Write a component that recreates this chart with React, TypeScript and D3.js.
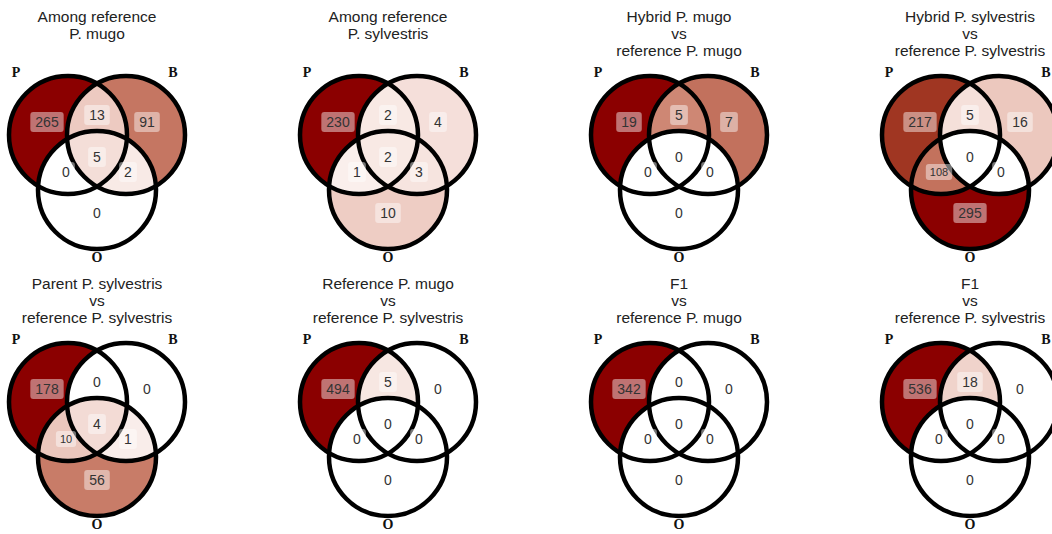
import React from "react";
import * as d3 from "d3";

const titles: string[][] = [
  ["Among reference", "P. mugo"],
  ["Among reference", "P. sylvestris"],
  ["Hybrid P. mugo", "vs", "reference P. mugo"],
  ["Hybrid P. sylvestris", "vs", "reference P. sylvestris"],
  ["Parent P. sylvestris", "vs", "reference P. sylvestris"],
  ["Reference P. mugo", "vs", "reference P. sylvestris"],
  ["F1", "vs", "reference P. mugo"],
  ["F1", "vs", "reference P. sylvestris"],
];

// region order: P only, P∩B, B only, P∩O, P∩B∩O, B∩O, O only
const regionKeys = ["P", "PB", "B", "PO", "PBO", "BO", "O"];
const counts: number[][] = [
  [265, 13, 91, 0, 5, 2, 0],
  [230, 2, 4, 1, 2, 3, 10],
  [19, 5, 7, 0, 0, 0, 0],
  [217, 5, 16, 108, 0, 0, 295],
  [178, 0, 0, 10, 4, 1, 56],
  [494, 5, 0, 0, 0, 0, 0],
  [342, 0, 0, 0, 0, 0, 0],
  [536, 18, 0, 0, 0, 0, 0],
];
const setNames = ["P", "B", "O"];

const W = 1052;
const H = 534;
const R = 59;
const circleOffsets: Record<string, [number, number]> = {
  P: [-29, 135],
  B: [29, 135],
  O: [0, 190],
};
const labelOffsets: Record<string, [number, number]> = {
  P: [-50, 122],
  PB: [0, 115],
  B: [50, 122],
  PO: [-31, 172],
  PBO: [0, 157],
  BO: [31, 172],
  O: [0, 213],
};
const setLabelOffsets: Record<string, [number, number]> = {
  P: [-81, 77],
  B: [76, 77],
  O: [0, 262],
};

const colX = d3.scaleLinear().domain([0, 3]).range([97, 970]);
const rowY = d3.scaleLinear().domain([0, 1]).range([0, 267]);

function Venn({ idx }: { idx: number }) {
  const cx = colX(idx % 4);
  const oy = rowY(Math.floor(idx / 4));
  const vals = counts[idx];
  const max = d3.max(vals) || 1;
  const color = d3
    .scaleSqrt<string>()
    .domain([0, max])
    .range(["#ffffff", "#8b0000"])
    .interpolate(d3.interpolateLab);
  const c = (k: string) => ({
    x: cx + circleOffsets[k][0],
    y: oy + circleOffsets[k][1],
  });
  const id = (s: string) => `v${idx}-${s}`;

  const regionEl = (key: string, i: number) => {
    const inSets = setNames.filter((s) => key.includes(s));
    const outSets = setNames.filter((s) => !key.includes(s));
    const first = c(inSets[0]);
    let el: React.ReactNode = (
      <circle cx={first.x} cy={first.y} r={R} fill={color(vals[i])} />
    );
    for (const s of inSets.slice(1)) {
      el = <g clipPath={`url(#${id("clip" + s)})`}>{el}</g>;
    }
    for (const s of outSets) {
      el = <g mask={`url(#${id("not" + s)})`}>{el}</g>;
    }
    return <g key={key}>{el}</g>;
  };

  return (
    <g>
      <defs>
        {setNames.map((s) => {
          const p = c(s);
          return (
            <React.Fragment key={s}>
              <clipPath id={id("clip" + s)}>
                <circle cx={p.x} cy={p.y} r={R} />
              </clipPath>
              <mask id={id("not" + s)} maskUnits="userSpaceOnUse" x={0} y={0} width={W} height={H}>
                <rect x={0} y={0} width={W} height={H} fill="white" />
                <circle cx={p.x} cy={p.y} r={R} fill="black" />
              </mask>
            </React.Fragment>
          );
        })}
      </defs>
      {titles[idx].map((t, j) => (
        <text
          key={j}
          x={cx}
          y={oy + 22 + j * 17}
          textAnchor="middle"
          fontFamily="'Liberation Sans', Arial, sans-serif"
          fontSize={15.5}
          fill="#222"
        >
          {t}
        </text>
      ))}
      {regionKeys.map((k, i) => regionEl(k, i))}
      {setNames.map((s) => {
        const p = c(s);
        return (
          <circle key={s} cx={p.x} cy={p.y} r={R} fill="none" stroke="#000" strokeWidth={4.5} />
        );
      })}
      {regionKeys.map((k, i) => {
        const txt = String(vals[i]);
        const small = (k === "PO" || k === "BO") && txt.length > 1;
        const fs = small ? 11 : 14;
        const pad = small ? 4 : 5;
        const w = txt.length * fs * 0.556 + pad * 2;
        const h = small ? 16 : 20;
        const x = cx + labelOffsets[k][0];
        const y = oy + labelOffsets[k][1];
        return (
          <g key={k}>
            <rect x={x - w / 2} y={y - h / 2} width={w} height={h} rx={3} fill="#fff" fillOpacity={0.45} />
            <text
              x={x}
              y={y}
              dy="0.35em"
              textAnchor="middle"
              fontFamily="'Liberation Sans', Arial, sans-serif"
              fontSize={fs}
              fill="#333"
            >
              {txt}
            </text>
          </g>
        );
      })}
      {setNames.map((s) => (
        <text
          key={s}
          x={cx + setLabelOffsets[s][0]}
          y={oy + setLabelOffsets[s][1]}
          textAnchor="middle"
          fontFamily="'Liberation Serif', 'Times New Roman', serif"
          fontWeight="bold"
          fontSize={14}
          fill="#111"
        >
          {s}
        </text>
      ))}
    </g>
  );
}

export default function App() {
  return (
    <svg
      width={W}
      height={H}
      style={{ position: "absolute", left: 0, top: 0, background: "#fff" }}
    >
      {titles.map((_, i) => (
        <Venn key={i} idx={i} />
      ))}
    </svg>
  );
}
